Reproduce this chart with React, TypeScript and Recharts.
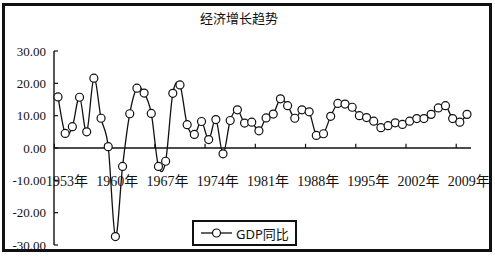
import { Legend, Line, LineChart, ReferenceLine, XAxis, YAxis } from "recharts";

const years = [
  1953, 1954, 1955, 1956, 1957, 1958, 1959, 1960, 1961, 1962,
  1963, 1964, 1965, 1966, 1967, 1968, 1969, 1970, 1971, 1972,
  1973, 1974, 1975, 1976, 1977, 1978, 1979, 1980, 1981, 1982,
  1983, 1984, 1985, 1986, 1987, 1988, 1989, 1990, 1991, 1992,
  1993, 1994, 1995, 1996, 1997, 1998, 1999, 2000, 2001, 2002,
  2003, 2004, 2005, 2006, 2007, 2008, 2009, 2010,
];

// GDP同比, %
const gdpYoY = [
  15.8, 4.5, 6.6, 15.7, 5.0, 21.6, 9.2, 0.4, -27.4, -5.7,
  10.6, 18.5, 17.0, 10.7, -5.7, -4.1, 16.9, 19.5, 7.2, 4.2,
  8.2, 2.6, 8.8, -1.8, 8.5, 11.8, 7.7, 8.0, 5.3, 9.3,
  10.5, 15.2, 13.1, 9.2, 11.8, 11.2, 3.9, 4.4, 9.8, 13.8,
  13.6, 12.6, 10.0, 9.4, 8.3, 6.3, 6.9, 7.8, 7.3, 8.3,
  9.1, 9.1, 10.4, 12.4, 13.1, 9.1, 8.0, 10.4,
];

const yTicks = [-30, -20, -10, 0, 10, 20, 30];
const labelYears = [1953, 1960, 1967, 1974, 1981, 1988, 1995, 2002, 2009];

const data = years.map((y, i) => ({ year: y, gdp: gdpYoY[i] }));

const ink = "#111";
const serif = "'Times New Roman', 'Liberation Serif', 'Noto Sans CJK SC', serif";

// Excel 的平滑线 ≈ Catmull-Rom
function smoothCurve(context: any) {
  let pts: [number, number][] = [];
  return {
    areaStart() {},
    areaEnd() {},
    lineStart() { pts = []; },
    lineEnd() {
      if (!pts.length) return;
      context.moveTo(pts[0][0], pts[0][1]);
      for (let i = 0; i < pts.length - 1; i++) {
        const p0 = pts[i - 1] ?? pts[i];
        const p1 = pts[i];
        const p2 = pts[i + 1];
        const p3 = pts[i + 2] ?? p2;
        context.bezierCurveTo(
          p1[0] + (p2[0] - p0[0]) / 6, p1[1] + (p2[1] - p0[1]) / 6,
          p2[0] - (p3[0] - p1[0]) / 6, p2[1] - (p3[1] - p1[1]) / 6,
          p2[0], p2[1],
        );
      }
    },
    point(x: number, y: number) { pts.push([x, y]); },
  };
}

function YTick({ x, y, payload }: any) {
  return (
    <g>
      <text x={x} y={y} textAnchor="end" dominantBaseline="central" fill={ink} fontSize={13} fontFamily={serif}>
        {Number(payload.value).toFixed(2)}
      </text>
      <line x1={x + 8} x2={x + 12} y1={y} y2={y} stroke={ink} strokeWidth={1.2} />
    </g>
  );
}

// 标签画在零线下方（Excel 的横轴交在 0 处）
function XTick({ x, y, payload }: any) {
  return (
    <text x={x + 9} y={y - 64} textAnchor="middle" dominantBaseline="central" fill={ink} fontSize={14} fontFamily={serif}>
      {`${payload.value}年`}
    </text>
  );
}

function LegendBox() {
  return (
    <div
      style={{
        boxSizing: "border-box", width: 105, height: 26, border: `2px solid ${ink}`, background: "#fff",
        display: "flex", alignItems: "center", gap: 3, paddingLeft: 6,
        fontFamily: "'Noto Sans', 'Noto Sans CJK SC', sans-serif", fontSize: 13, color: ink,
      }}
    >
      <svg width={33} height={10}>
        <line x1={1} x2={32} y1={5} y2={5} stroke={ink} strokeWidth={1.3} />
        <circle cx={16.5} cy={5} r={4} fill="#fff" stroke={ink} strokeWidth={1.2} />
      </svg>
      <span>GDP同比</span>
    </div>
  );
}

export default function App() {
  return (
    <div style={{ position: "absolute", left: 0, top: 0, width: 495, height: 257, background: "#fff" }}>
      <div
        style={{
          position: "absolute", left: 2, top: 3, width: 490, height: 249, boxSizing: "border-box",
          border: `3px solid ${ink}`,
        }}
      />
      <div
        style={{
          position: "absolute", left: 0, width: 478, top: 8, textAlign: "center",
          fontFamily: "'Noto Sans CJK SC', sans-serif", fontSize: 13, color: ink,
        }}
      >
        经济增长趋势
      </div>
      <div style={{ position: "absolute", left: 0, top: 0 }}>
        <LineChart width={495} height={257} data={data} margin={{ top: 51, right: 24, bottom: 11, left: 0 }}>
          <XAxis
            dataKey="year"
            interval={6}
            height={1}
            axisLine={false}
            tickLine={false}
            tickSize={0}
            tickMargin={0}
            padding={{ left: 4, right: 4 }}
            tick={<XTick />}
          />
          <YAxis
            domain={[-30, 30]}
            ticks={yTicks}
            width={54}
            axisLine={{ stroke: ink, strokeWidth: 1.4 }}
            tickLine={false}
            tickSize={0}
            tickMargin={8}
            tick={<YTick />}
          />
          <ReferenceLine y={0} stroke={ink} strokeWidth={1.3} />
          {labelYears.map((yr) => (
            <ReferenceLine
              key={yr}
              segment={[{ x: yr, y: 0 }, { x: yr, y: 1.3 }]}
              shape={(p: any) => (
                <line x1={p.x1 - 3.6} x2={p.x2 - 3.6} y1={p.y1} y2={p.y2} stroke={ink} strokeWidth={1.2} />
              )}
            />
          ))}
          <Line
            dataKey="gdp"
            name="GDP同比"
            type={smoothCurve as any}
            stroke={ink}
            strokeWidth={1.3}
            dot={{ r: 4, fill: "#fff", stroke: ink, strokeWidth: 1.2 }}
            isAnimationActive={false}
          />
          <Legend
            layout="horizontal"
            verticalAlign="middle"
            align="center"
            wrapperStyle={{ left: 192, top: 220, width: 105, height: 26 }}
            content={() => <LegendBox />}
          />
        </LineChart>
      </div>
    </div>
  );
}
